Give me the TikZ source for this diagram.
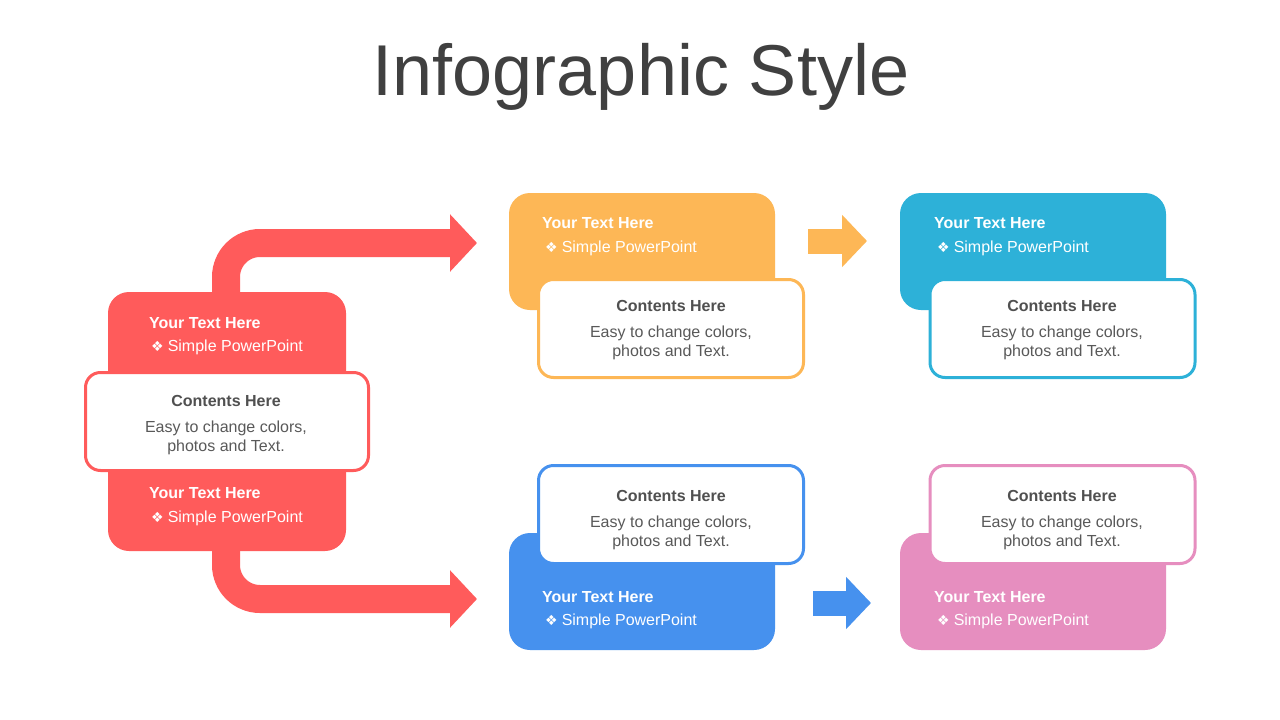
\documentclass[tikz,border=0pt]{standalone}
\usepackage{fontspec}
\setmainfont{Liberation Sans}
\newfontfamily\symfont{DejaVu Sans}
\usetikzlibrary{arrows.meta}
\definecolor{cred}{HTML}{FF5B5B}
\definecolor{corange}{HTML}{FDB756}
\definecolor{ccyan}{HTML}{2DB1D8}
\definecolor{cblue}{HTML}{4691EE}
\definecolor{cpink}{HTML}{E68EBF}
\definecolor{ctitle}{HTML}{404040}
\definecolor{chead}{HTML}{505050}
\definecolor{cbody}{HTML}{595959}
\newcommand{\sub}{{\symfont\fontsize{14}{14}\selectfont ❖}\hspace{4pt}Simple PowerPoint}
\tikzset{
  cbox/.style={rounded corners=21pt, minimum width=266pt, minimum height=117pt, inner sep=0pt, fill=#1},
  wbox/.style={fill=white, draw=#1, line width=3pt, rounded corners=15pt, minimum width=265pt, minimum height=98pt, inner sep=0pt},
  ttl/.style={anchor=west, inner sep=0pt, text=white, font=\fontsize{16}{19}\selectfont\bfseries},
  stl/.style={anchor=west, inner sep=0pt, text=white, font=\fontsize{16}{19}\selectfont},
  hd/.style={inner sep=0pt, text=chead, font=\fontsize{16}{19}\selectfont\bfseries},
  bd/.style={inner sep=0pt, text=cbody, align=center, font=\fontsize{16}{19}\selectfont},
  bigarrow/.style={draw=cred, line width=28pt, rounded corners=34pt, -{Triangle[width=56pt,length=27pt]}},
  smallarrow/.style={draw=#1, line width=25pt, -{Triangle[width=51pt,length=25pt]}}
}
\begin{document}
\begin{tikzpicture}[x=1pt,y=-1pt]
\useasboundingbox[fill=white] (0,0) rectangle (1280,720);
% title
\node[text=ctitle, font=\fontsize{72}{80}\selectfont, inner sep=0pt, anchor=base] (title) at (641,95.5) {Infographic Style};

% red big arrows
\coordinate (s1) at (226,300);
\coordinate (t1) at (477,243);
\coordinate (s2) at (226,540);
\coordinate (t2) at (477,599);
\draw[bigarrow] (s1) |- (t1);
\draw[bigarrow] (s2) |- (t2);

% red block
\node[cbox=cred, minimum width=238pt, minimum height=259pt] (r1) at (227,421.5) {};
\node[wbox=cred, minimum width=283pt] (rw) at (227,421.5) {};
\node[ttl] (rt1) at (149,323) {Your Text Here};
\node[stl] (rs1) at (151,347.5) {\sub};
\node[hd] (rh) at (226,401) {Contents Here};
\node[bd] (rb) at (226,438) {Easy to change colors,\\photos and Text.};
\node[ttl] (rt2) at (149,493) {Your Text Here};
\node[stl] (rs2) at (151,518.5) {\sub};

% orange block
\node[cbox=corange] (o1) at (642,251.5) {};
\node[wbox=corange] (ow) at (671,328.5) {};
\node[ttl] (ot) at (542,223) {Your Text Here};
\node[stl] (os) at (545,248.5) {\sub};
\node[hd] (oh) at (671,306) {Contents Here};
\node[bd] (ob) at (671,343) {Easy to change colors,\\photos and Text.};

% cyan block
\node[cbox=ccyan] (c1) at (1033,251.5) {};
\node[wbox=ccyan] (cw) at (1062.5,328.5) {};
\node[ttl] (ct) at (934,223) {Your Text Here};
\node[stl] (cs) at (937,248.5) {\sub};
\node[hd] (ch) at (1062,306) {Contents Here};
\node[bd] (cb) at (1062,343) {Easy to change colors,\\photos and Text.};

% blue block
\node[cbox=cblue] (b1) at (642,591.5) {};
\node[wbox=cblue] (bw) at (671,514.5) {};
\node[ttl] (bt) at (542,597) {Your Text Here};
\node[stl] (bs) at (545,621.5) {\sub};
\node[hd] (bh) at (671,496) {Contents Here};
\node[bd] (bb) at (671,533) {Easy to change colors,\\photos and Text.};

% pink block
\node[cbox=cpink] (p1) at (1033,591.5) {};
\node[wbox=cpink] (pw) at (1062.5,514.5) {};
\node[ttl] (pt) at (934,597) {Your Text Here};
\node[stl] (ps) at (937,621.5) {\sub};
\node[hd] (ph) at (1062,496) {Contents Here};
\node[bd] (pb) at (1062,533) {Easy to change colors,\\photos and Text.};

% small arrows
\coordinate (oa1) at (808,241);
\coordinate (oa2) at (867,241);
\coordinate (ba1) at (813,603);
\coordinate (ba2) at (871,603);
\draw[smallarrow=corange] (oa1) -- (oa2);
\draw[smallarrow=cblue] (ba1) -- (ba2);
\end{tikzpicture}
\end{document}
